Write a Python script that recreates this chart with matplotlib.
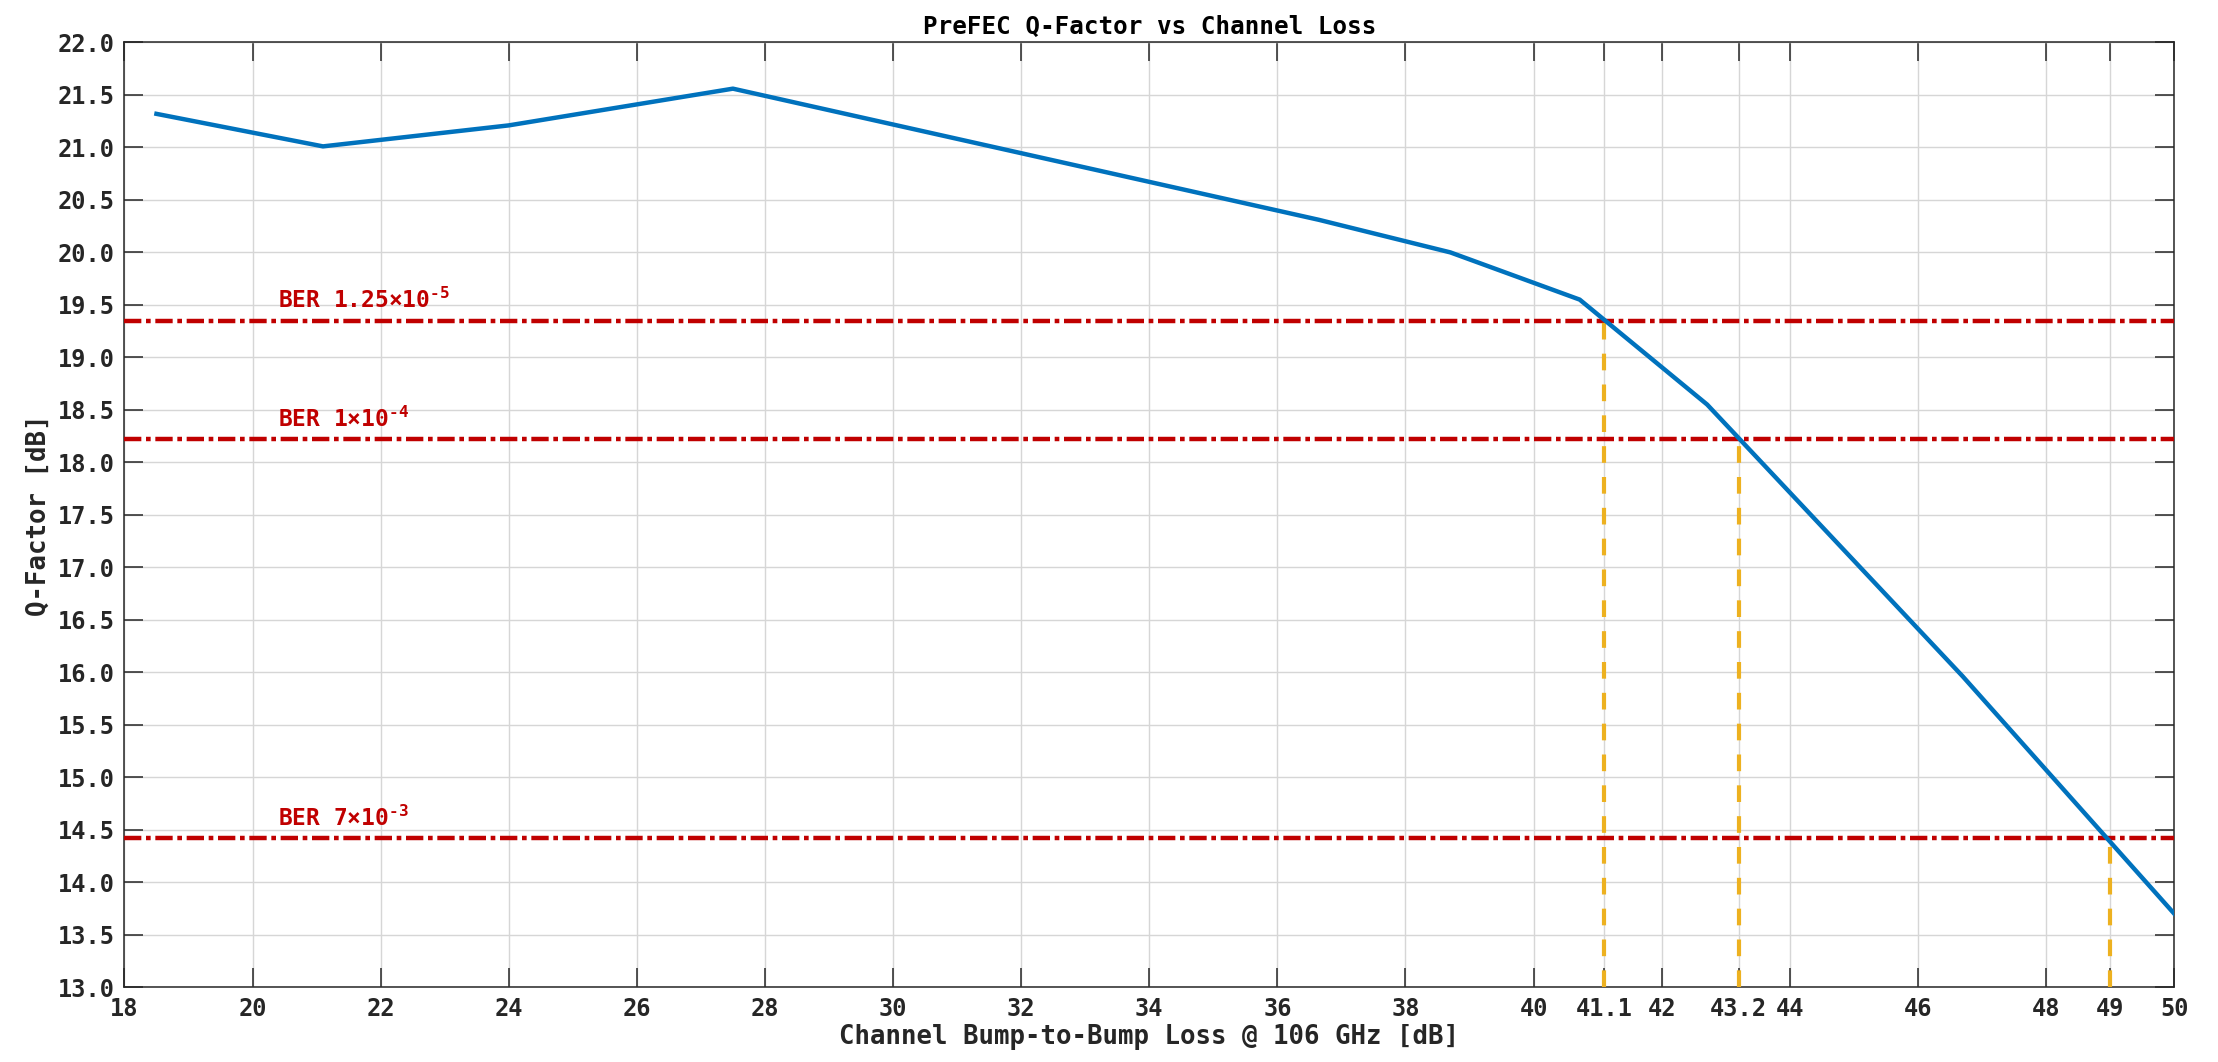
import matplotlib
matplotlib.use('Agg')
import matplotlib.pyplot as plt
import numpy as np

# Q-factor curve
loss_db = [18.5, 21.1, 24.0, 27.5, 36.65, 38.7, 40.72, 42.71, 46.7, 50.0]
q_db = [21.32, 21.01, 21.21, 21.56, 20.31, 20.0, 19.55, 18.55, 15.96, 13.7]

# BER thresholds and where the curve crosses them (u2010 = short hyphen in the exponent)
ber_labels = ['BER 1.25$\\times$10$^{\u20105}$', 'BER 1$\\times$10$^{\u20104}$', 'BER 7$\\times$10$^{\u20103}$']
ber_q = [19.35, 18.22, 14.42]
cross_loss = [41.1, 43.2, 49.0]

xticks = [18, 20, 22, 24, 26, 28, 30, 32, 34, 36, 38, 40, 41.1, 42, 43.2, 44, 46, 48, 49, 50]
xticklabels = ['18', '20', '22', '24', '26', '28', '30', '32', '34', '36', '38', '40',
               '41.1', '42', '43.2', '44', '46', '48', '49', '50']

plt.rcParams['font.family'] = ['DejaVu Sans Mono']
plt.rcParams['font.weight'] = 'bold'
plt.rcParams['mathtext.fontset'] = 'custom'
plt.rcParams['mathtext.rm'] = 'DejaVu Sans Mono:bold'
plt.rcParams['mathtext.it'] = 'DejaVu Sans Mono:bold'
plt.rcParams['mathtext.bf'] = 'DejaVu Sans Mono:bold'
plt.rcParams['mathtext.default'] = 'rm'

dark = '#262626'
fig = plt.figure(figsize=(22.18, 10.62), dpi=100)
ax = fig.add_axes([0.0561, 0.0706, 0.9241, 0.8894])

ax.plot(loss_db, q_db, color='#0072BD', lw=3.2, zorder=4)

for lab, q in zip(ber_labels, ber_q):
    ax.axhline(q, color='#C00000', lw=3.2, ls=(0, (3.9, 1.05, 1.05, 1.05)), zorder=3)
    ax.text(20.4, q + 0.07, lab, color='#C00000', fontsize=16.5, fontweight='bold',
            va='bottom', ha='left', zorder=5)

for xl, q in zip(cross_loss, ber_q):
    ax.plot([xl, xl], [13.0, q], color='#EDB120', lw=3.0, ls=(0, (4.0, 3.4)), zorder=3)

ax.set_xlim(18, 50)
ax.set_ylim(13, 22)
ax.set_xticks(xticks)
ax.set_xticklabels(xticklabels)
ax.set_yticks(np.arange(13.0, 22.01, 0.5))
ax.set_yticklabels(['%.1f' % v for v in np.arange(13.0, 22.01, 0.5)])

ax.grid(True, color='#d6d6d6', lw=1.0)
ax.set_axisbelow(True)
ax.tick_params(direction='in', length=14, width=1.1, colors=dark, labelsize=17,
               top=True, right=True, pad=7)
for s in ax.spines.values():
    s.set_color(dark)
    s.set_linewidth(1.1)

ax.set_xlabel('Channel Bump-to-Bump Loss @ 106 GHz [dB]', fontsize=18.5, color=dark,
              fontweight='bold', labelpad=2)
ax.set_ylabel('Q-Factor [dB]', fontsize=18.5, color=dark, fontweight='bold', labelpad=4)
ax.set_title('PreFEC Q-Factor vs Channel Loss', fontsize=17.5, color='black',
             fontweight='bold', pad=6)

fig.savefig('out.png', dpi=100)
